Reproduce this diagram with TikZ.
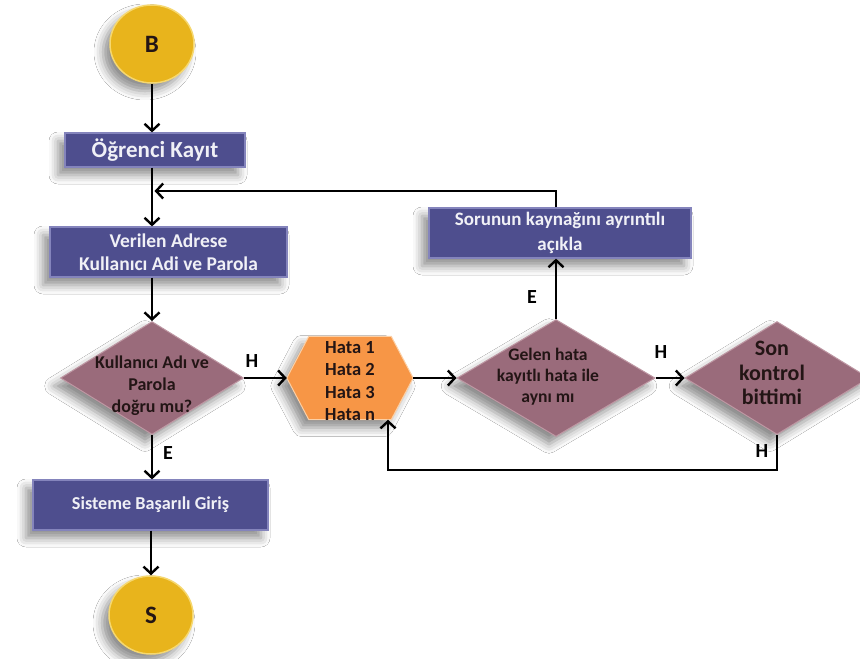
\documentclass[tikz,border=0pt]{standalone}
\usepackage{fontspec}
\setmainfont{Carlito}
\usetikzlibrary{shapes.geometric,arrows.meta,calc,shadows.blur}

\definecolor{boxfill}{HTML}{4E4E8E}
\definecolor{boxedge}{HTML}{8484BC}
\definecolor{diafill}{HTML}{9A6B7B}
\definecolor{diaedge}{HTML}{BE97A3}
\definecolor{hexfill}{HTML}{F79646}
\definecolor{hexedge}{HTML}{FCD0A6}
\definecolor{goldfill}{HTML}{E8B41C}
\definecolor{goldedge}{HTML}{F6D870}
\definecolor{boxtext}{HTML}{F0F0F6}
\definecolor{darktext}{HTML}{231515}

\tikzset{
  softshadow/.style={blur shadow={shadow xshift=-7pt, shadow yshift=-8pt,
      shadow blur radius=9pt, shadow opacity=45}},
  procbox/.style={rectangle, fill=boxfill, draw=boxedge, line width=1.2pt,
      text=boxtext, font=\bfseries\fontsize{19.5}{23}\selectfont, align=center,
      inner sep=0pt, softshadow},
  decision/.style={diamond, fill=diafill, draw=diaedge, line width=1pt,
      inner sep=0pt, softshadow},
  dtext/.style={text=darktext, font=\bfseries\fontsize{18}{22}\selectfont,
      align=center, inner sep=0pt},
  terminal/.style={ellipse, fill=goldfill, draw=goldedge, line width=1.5pt,
      minimum width=84pt, minimum height=78pt, inner sep=0pt,
      font=\bfseries\fontsize{25}{28}\selectfont, text=darktext, softshadow},
  arr/.style={line width=2.4pt, -{Straight Barb[length=7pt,width=15pt]}},
  tag/.style={font=\bfseries\fontsize{20}{24}\selectfont, text=black, inner sep=0pt},
}

\begin{document}
\begin{tikzpicture}[x=1pt,y=-1pt]
  \useasboundingbox[fill=white] (0,0) rectangle (860,659);

  % start / end terminals
  \node[terminal] (B) at (152,44) {B};
  \node[terminal] (S) at (151,615) {S};

  % process boxes
  \node[procbox, minimum width=180pt, minimum height=34pt,
        font=\bfseries\fontsize{23}{26}\selectfont] (ogr) at (155,150) {Öğrenci Kayıt};
  \node[procbox, minimum width=237pt, minimum height=50pt] (ver) at (168.5,252)
        {Verilen Adrese\\Kullanıcı Adi ve Parola};
  \node[procbox, minimum width=262pt, minimum height=50pt,
        font=\bfseries\fontsize{19}{25}\selectfont] (sor) at (560,233)
        {Sorunun kaynağını ayrıntılı\\açıkla};
  \node[procbox, minimum width=235pt, minimum height=50pt,
        font=\bfseries\fontsize{18.2}{22}\selectfont] (sis) at (150.5,505)
        {Sisteme Başarılı Giriş};

  % decisions
  \node[decision, minimum width=183pt, minimum height=113pt] (d1) at (152,378) {};
  \node[dtext] (d1t) at (152,386) {Kullanıcı Adı ve\\Parola\\doğru mu?};

  \node[decision, minimum width=198pt, minimum height=117pt] (d2) at (556,378) {};
  \node[dtext, font=\bfseries\fontsize{17.6}{21}\selectfont] (d2t) at (548,377)
        {Gelen hata\\kayıtlı hata ile\\aynı mı};

  \node[decision, minimum width=184pt, minimum height=113pt] (d3) at (777,378) {};
  \node[dtext, font=\bfseries\fontsize{22}{24.5}\selectfont] (d3t) at (772,373)
        {Son\\kontrol\\bittimi};

  % error list hexagon
  \node[minimum width=126pt, minimum height=83pt, inner sep=0pt] (hex) at (350,378) {};
  \path[fill=hexfill, draw=hexedge, line width=1pt, softshadow]
    (hex.west) -- ($(hex.north west)+(22,0)$) -- ($(hex.north east)+(-22,0)$)
    -- (hex.east) -- ($(hex.south east)+(-22,0)$) -- ($(hex.south west)+(22,0)$) -- cycle;
  \node[dtext, font=\bfseries\fontsize{18.5}{22.5}\selectfont] (hext) at (350,381)
        {Hata 1\\Hata 2\\Hata 3\\Hata n};

  % main column
  \draw[arr] (B.south) -- (B.south |- ogr.north);
  \draw[arr] (B.south |- ogr.south) -- (B.south |- ver.north);
  \draw[arr] (B.south |- ver.south) -- (d1.north);
  \draw[arr] (d1.south) -- (d1.south |- sis.north);
  \draw[arr] (S.north |- sis.south) -- (S.north);

  % error branch
  \draw[arr] (d1.east) -- (hex.west);
  \draw[arr] (hex.east) -- (d2.west);
  \draw[arr] (d2.east) -- (d3.west);
  \draw[arr] (d2.north) -- (d2.north |- sor.south);

  % loop back to the login step
  \coordinate (join) at (154.5,191);
  \draw[arr] (d2.north |- sor.north) |- (join);

  % loop back to the error list
  \coordinate (fb) at (388,470);
  \draw[arr] (d3.south) |- (fb) -- (fb |- hex.south);

  % branch labels
  \node[tag] (h1) at (252,361) {H};
  \node[tag] (h2) at (661,352) {H};
  \node[tag] (h3) at (762,451) {H};
  \node[tag] (e1) at (168,453) {E};
  \node[tag] (e2) at (532,297) {E};
\end{tikzpicture}
\end{document}
